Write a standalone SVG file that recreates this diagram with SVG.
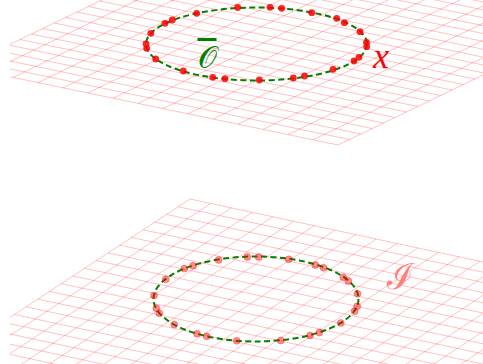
<svg xmlns="http://www.w3.org/2000/svg" width="483" height="364" viewBox="0 0 483 364">
<style>
.grid{fill:none;stroke:#ff0000;stroke-opacity:0.3;stroke-width:0.8}
.orbit{fill:none;stroke:#008000;stroke-width:2;stroke-dasharray:6 3.5}
.dtop{fill:#ff0000;fill-opacity:0.85}
.dbot{fill:#ff0000;fill-opacity:0.45;stroke:#ff0000;stroke-opacity:0.35;stroke-width:0.8}
.lab{font-family:"Liberation Serif","DejaVu Serif",serif}
</style>
<defs>
<clipPath id="clip"><rect x="10" y="0" width="473" height="364"/></clipPath>
</defs>
<g id="plane-top" clip-path="url(#clip)">
<path class="grid" vector-effect="non-scaling-stroke" transform="matrix(25 5.2 11.4 -5.5 338 145)" d="M-15 0V27M-14 0V27M-13 0V27M-12 0V27M-11 0V27M-10 0V27M-9 0V27M-8 0V27M-7 0V27M-6 0V27M-5 0V27M-4 0V27M-3 0V27M-2 0V27M-1 0V27M0 0V27M-15 0H0M-15 1H0M-15 2H0M-15 3H0M-15 4H0M-15 5H0M-15 6H0M-15 7H0M-15 8H0M-15 9H0M-15 10H0M-15 11H0M-15 12H0M-15 13H0M-15 14H0M-15 15H0M-15 16H0M-15 17H0M-15 18H0M-15 19H0M-15 20H0M-15 21H0M-15 22H0M-15 23H0M-15 24H0M-15 25H0M-15 26H0M-15 27H0"/>
</g>
<g id="plane-bottom" clip-path="url(#clip)">
<path class="grid" vector-effect="non-scaling-stroke" transform="matrix(20.7 4.45 -11.7 7.7 190 199)" d="M0 0V25M1 0V25M2 0V25M3 0V25M4 0V25M5 0V25M6 0V25M7 0V25M8 0V25M9 0V25M10 0V25M11 0V25M12 0V25M13 0V25M14 0V25M15 0V25M16 0V25M17 0V25M18 0V25M19 0V25M20 0V25M21 0V25M22 0V25M23 0V25M24 0V25M25 0V25M26 0V25M27 0V25M28 0V25M29 0V25M30 0V25M0 0H30M0 1H30M0 2H30M0 3H30M0 4H30M0 5H30M0 6H30M0 7H30M0 8H30M0 9H30M0 10H30M0 11H30M0 12H30M0 13H30M0 14H30M0 15H30M0 16H30M0 17H30M0 18H30M0 19H30M0 20H30M0 21H30M0 22H30M0 23H30M0 24H30M0 25H30"/>
</g>
<g id="orbit-top">
<ellipse class="orbit" cx="256.5" cy="44" rx="110.5" ry="36.5"/>
<g class="dtop">
<circle cx="237.7" cy="7.5" r="3.4"/><circle cx="270" cy="7.3" r="3.4"/><circle cx="281.7" cy="8.3" r="3.4"/><circle cx="311.7" cy="12.7" r="3.4"/><circle cx="336.7" cy="18.3" r="3.4"/><circle cx="344.3" cy="22.7" r="3.4"/><circle cx="360" cy="31.7" r="3.4"/><circle cx="366.5" cy="42.3" r="3.4"/><circle cx="366.7" cy="46.7" r="3.4"/><circle cx="359" cy="57.3" r="3.4"/><circle cx="354" cy="61" r="3.4"/><circle cx="333" cy="69.3" r="3.4"/><circle cx="304.5" cy="76" r="3.4"/><circle cx="293.3" cy="78" r="3.4"/><circle cx="259.3" cy="80" r="3.4"/><circle cx="225" cy="78.7" r="3.4"/><circle cx="212.7" cy="77.3" r="3.4"/><circle cx="183.3" cy="71" r="3.4"/><circle cx="155.7" cy="59" r="3.4"/><circle cx="146.7" cy="48.3" r="3.4"/><circle cx="146" cy="44" r="3.4"/><circle cx="150.8" cy="33.3" r="3.4"/><circle cx="165" cy="23.3" r="3.4"/><circle cx="172.3" cy="20" r="3.4"/><circle cx="196.7" cy="13.3" r="3.4"/>
</g>
</g>
<g id="orbit-bottom">
<ellipse class="orbit" cx="256" cy="299" rx="102.5" ry="42.5"/>
<g class="dbot">
<circle cx="247.3" cy="257" r="3.5"/><circle cx="258.6" cy="257" r="3.5"/><circle cx="288.8" cy="259.3" r="3.5"/><circle cx="315.3" cy="265" r="3.5"/><circle cx="323.6" cy="267.8" r="3.5"/><circle cx="343.3" cy="277.3" r="3.5"/><circle cx="348.3" cy="281" r="3.5"/><circle cx="357.5" cy="293.7" r="3.5"/><circle cx="357.2" cy="306.3" r="3.5"/><circle cx="354.6" cy="311.3" r="3.5"/><circle cx="340.8" cy="323" r="3.5"/><circle cx="319.3" cy="332.5" r="3.5"/><circle cx="310" cy="335.5" r="3.5"/><circle cx="280.7" cy="340.4" r="3.5"/><circle cx="236.7" cy="340.8" r="3.5"/><circle cx="206.7" cy="336.3" r="3.5"/><circle cx="197" cy="333.7" r="3.5"/><circle cx="174.2" cy="324.5" r="3.5"/><circle cx="159.3" cy="313.3" r="3.5"/><circle cx="156.3" cy="308.3" r="3.5"/><circle cx="154" cy="295.5" r="3.5"/><circle cx="165.8" cy="279.3" r="3.5"/><circle cx="184.3" cy="268.6" r="3.5"/><circle cx="193" cy="265.8" r="3.5"/><circle cx="218.6" cy="260" r="3.5"/>
</g>
</g>
<g id="label-O">
<text class="lab" x="207" y="68" font-size="30" fill="#008000" text-anchor="middle" text-decoration="overline">𝒪</text>
</g>
<g id="label-x">
<text class="lab" x="381" y="68" font-size="36" fill="#ff0000" text-anchor="middle" font-style="italic">x</text>
</g>
<g id="label-I">
<text class="lab" x="400" y="289" font-size="36" fill="#ff7f7f" text-anchor="middle">ℐ</text>
</g>
</svg>
